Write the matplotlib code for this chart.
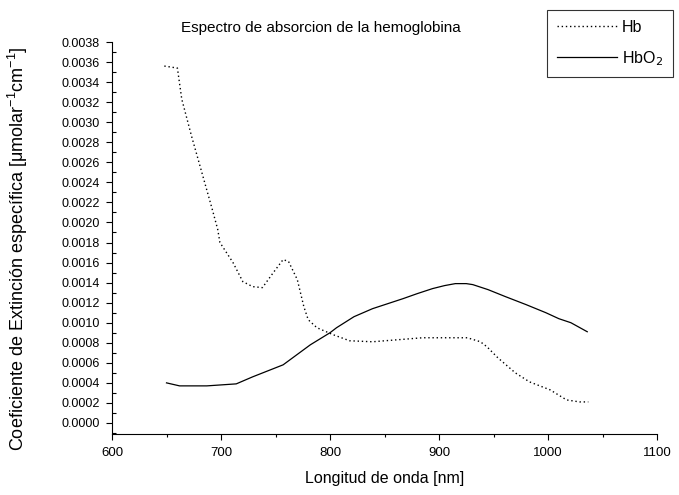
import matplotlib
matplotlib.use("Agg")
import matplotlib.pyplot as plt
from matplotlib.ticker import MultipleLocator

plt.rcParams['font.family'] = ['Liberation Sans', 'DejaVu Sans']

# Hb (deoxy-hemoglobin), dotted
hb_wl = [648, 660, 664, 673, 679, 692, 697, 699, 711, 720, 729, 738, 748, 757, 762,
         770, 776, 780, 788, 803, 818, 839, 885, 926, 938, 944, 954, 970, 983, 1002,
         1017, 1029, 1037]
hb_val = [0.00356, 0.00354, 0.00323, 0.00286, 0.00263, 0.00213, 0.00193, 0.00180,
          0.00160, 0.00141, 0.00136, 0.00135, 0.00150, 0.00163, 0.00161, 0.00143,
          0.00116, 0.00103, 0.00095, 0.00088, 0.00082, 0.00081, 0.00085, 0.00085,
          0.00081, 0.00076, 0.00065, 0.00050, 0.00041, 0.00033, 0.00023, 0.00021,
          0.00021]

# HbO2 (oxy-hemoglobin), solid
hbo2_wl = [650, 662, 687, 714, 729, 757, 782, 800, 806, 822, 839, 853, 867, 880, 894,
           905, 915, 925, 931, 945, 961, 980, 998, 1010, 1021, 1036]
hbo2_val = [0.00040, 0.00037, 0.00037, 0.00039, 0.00046, 0.00058, 0.00078, 0.00090,
            0.00095, 0.00106, 0.00114, 0.00119, 0.00124, 0.00129, 0.00134, 0.00137,
            0.00139, 0.00139, 0.00138, 0.00133, 0.00126, 0.00118, 0.00110, 0.00104,
            0.00100, 0.00091]

y_ticks = [i * 0.0002 for i in range(20)]
y_labels = ["%.4f" % v for v in y_ticks]
x_ticks = [600, 700, 800, 900, 1000, 1100]

fig = plt.figure(figsize=(6.79, 4.95), dpi=100)
ax = fig.add_axes([112/679, 1 - 434/495, (657-112)/679, (434-42)/495])

l1, = ax.plot(hb_wl, hb_val, color='black', linestyle=(0, (1, 2)), linewidth=1.0, label='Hb')
l2, = ax.plot(hbo2_wl, hbo2_val, color='black', linestyle='-', linewidth=0.9, label='HbO$_2$')

ax.set_xlim(600, 1100)
ax.set_ylim(-0.00011, 0.0038)
ax.set_xticks(x_ticks)
ax.set_xticklabels([str(x) for x in x_ticks], fontsize=9.5)
ax.xaxis.set_minor_locator(MultipleLocator(50))
ax.set_yticks(y_ticks)
ax.set_yticklabels(y_labels, fontsize=9)
ax.yaxis.set_minor_locator(MultipleLocator(0.0001))

ax.spines['top'].set_visible(False)
ax.spines['right'].set_visible(False)
ax.tick_params(axis='both', which='major', direction='out', length=4, width=0.8)
ax.tick_params(axis='y', which='minor', direction='in', length=3, width=0.8)
ax.tick_params(axis='x', which='minor', direction='out', length=2, width=0.8)
ax.tick_params(axis='x', which='major', pad=5)
ax.tick_params(axis='y', which='major', pad=5)

ax.set_xlabel('Longitud de onda [nm]', fontsize=11.5, labelpad=9)
ax.set_ylabel('Coeficiente de Extinción específica [μmolar$^{\\mathregular{-1}}$cm$^{\\mathregular{-1}}$]',
              fontsize=13)
ax.yaxis.set_label_coords((30 - 112) / 545, (434 - 249) / 392)
fig.text(321/679, 1 - 28/495, 'Espectro de absorcion de la hemoglobina', ha='center', va='center', fontsize=11)

leg = fig.legend(handles=[l1, l2], loc='upper left', bbox_to_anchor=(547/679, 1 - 10/495),
                 borderaxespad=0, fontsize=11.5, frameon=True, fancybox=False, edgecolor='black',
                 handlelength=3.8, handletextpad=0.3, borderpad=0.6, labelspacing=0.9)
leg.get_frame().set_linewidth(0.8)

fig.savefig('out.png', dpi=100)
